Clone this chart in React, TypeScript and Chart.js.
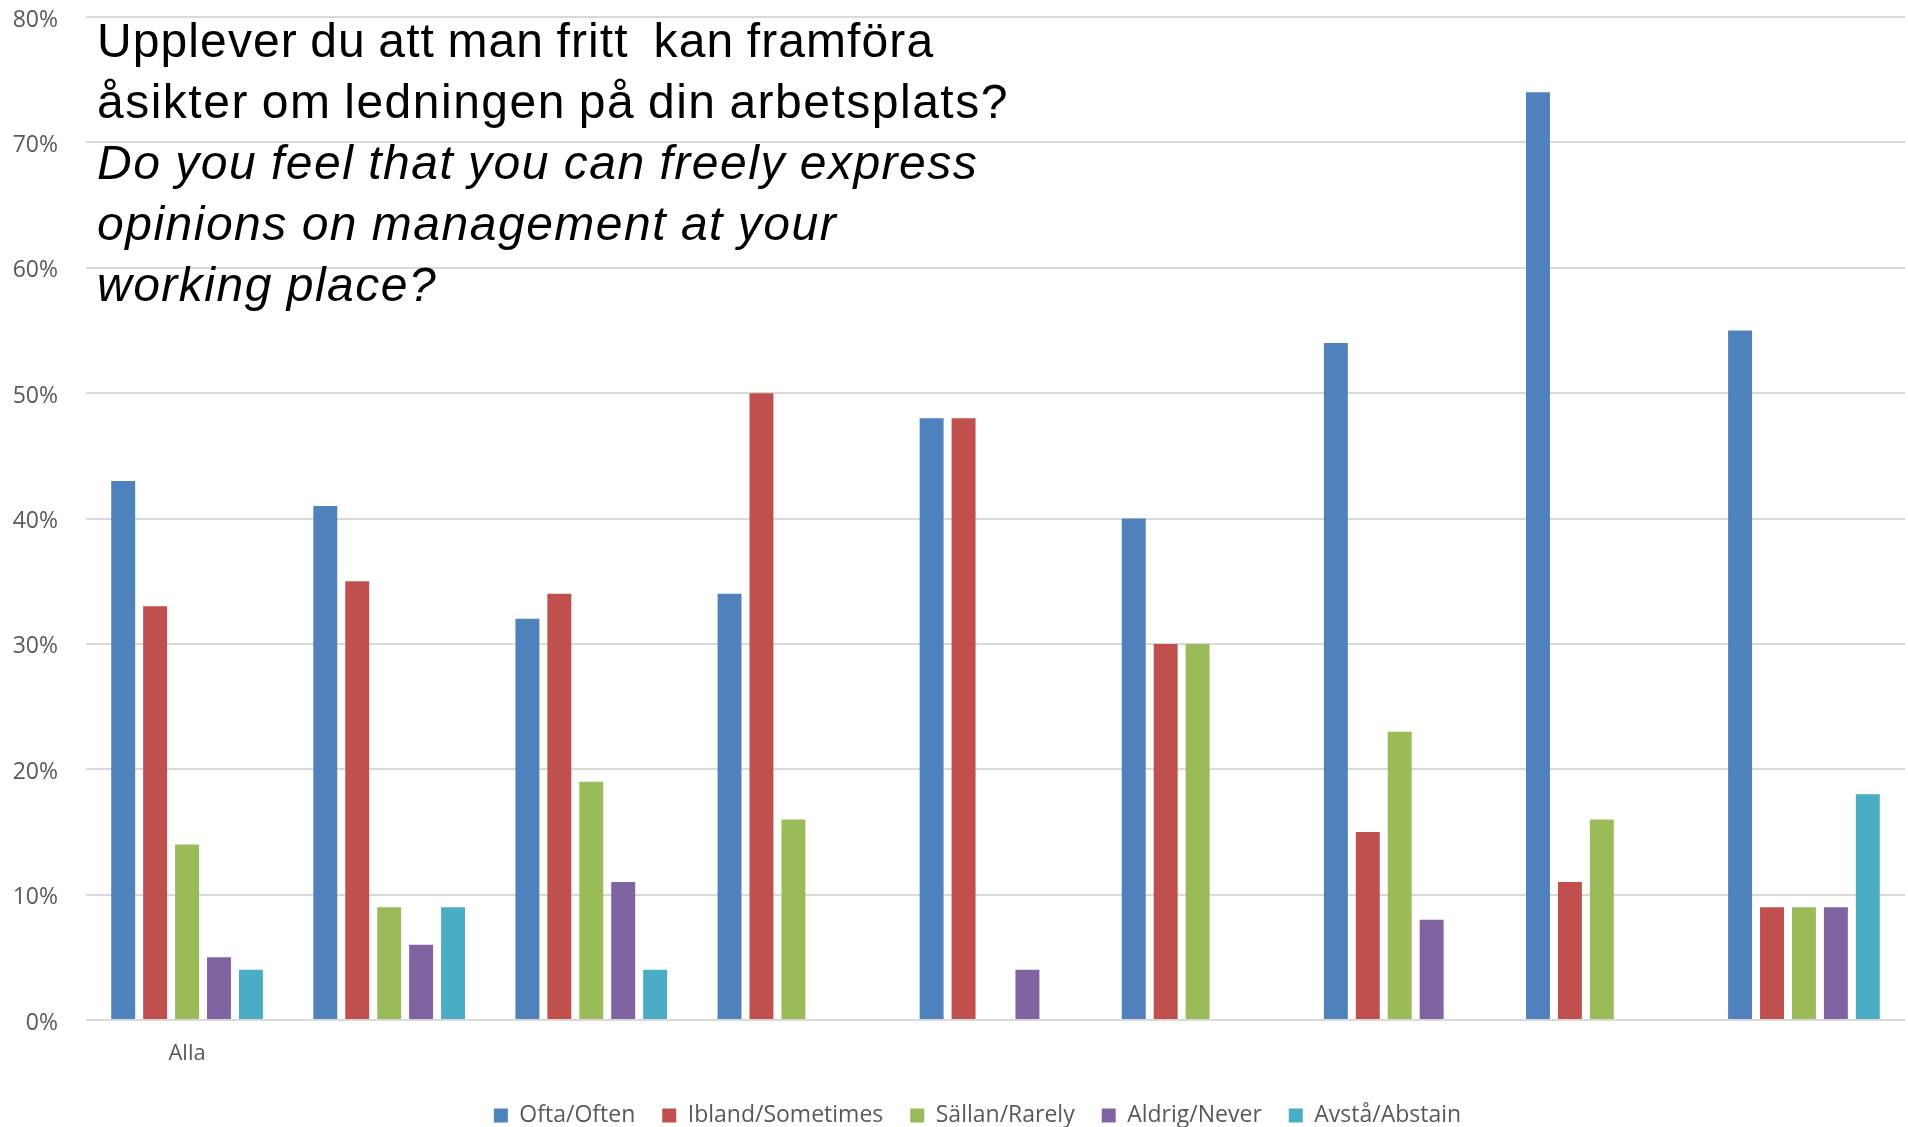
import React, { useEffect, useRef } from "react";
import { Chart, registerables } from "chart.js";

Chart.register(...registerables);

const categories = ["Alla", "", "", "", "", "", "", "", ""];
const seriesNames = ["Ofta/Often", "Ibland/Sometimes", "Sällan/Rarely", "Aldrig/Never", "Avstå/Abstain"];
const often = [43, 41, 32, 34, 48, 40, 54, 74, 55];
const sometimes = [33, 35, 34, 50, 48, 30, 15, 11, 9];
const rarely = [14, 9, 19, 16, null, 30, 23, 16, 9];
const never = [5, 6, 11, null, 4, null, 8, null, 9];
const abstain = [4, 9, 4, null, null, null, null, null, 18];
const seriesColors = ["#4F81BD", "#C0504D", "#9BBB59", "#8064A2", "#4BACC6"];
const yMin = 0;
const yMax = 80;
const yStep = 10;
const yTickLabels = ["0%", "10%", "20%", "30%", "40%", "50%", "60%", "70%", "80%"];
const titleLines = [
  "Upplever du att man fritt  kan framföra",
  "åsikter om ledningen på din arbetsplats?",
  "Do you feel that you can freely express",
  "opinions on management at your",
  "working place?",
];

const FONT = "'Open Sans', sans-serif";
const TICK_SIZE = 23;
const LEGEND_SIZE = 23;
const LABEL_GAP = 28;

const innerTitle = {
  id: "innerTitle",
  afterDatasetsDraw(chart: any) {
    const { ctx, chartArea } = chart;
    ctx.save();
    ctx.fillStyle = "#000000";
    ctx.textAlign = "left";
    ctx.textBaseline = "alphabetic";
    titleLines.forEach((line, i) => {
      const italic = i >= 2;
      ctx.font = `${italic ? "italic " : ""}48px "Liberation Sans", Arial, sans-serif`;
      try {
        (ctx as any).letterSpacing = italic ? "1.5px" : i === 0 ? "1.1px" : "1.5px";
        (ctx as any).wordSpacing = italic ? "-1px" : "-2px";
      } catch (e) {}
      ctx.fillText(line, chartArea.left + 11, chartArea.top + 40 + i * 61);
    });
    ctx.restore();
  },
};

export default function App() {
  const canvasRef = useRef<HTMLCanvasElement | null>(null);

  useEffect(() => {
    document.body.style.margin = "0";
    document.body.style.overflow = "hidden";
    const canvas = canvasRef.current;
    if (!canvas) return;

    const mctx = document.createElement("canvas").getContext("2d")!;
    mctx.font = `${TICK_SIZE}px ${FONT}`;
    const widest = Math.max(...yTickLabels.map((t) => mctx.measureText(t).width));

    const series = [often, sometimes, rarely, never, abstain];
    const tickFont = { family: FONT, size: TICK_SIZE };
    const chart = new Chart(canvas, {
      type: "bar",
      data: {
        labels: categories,
        datasets: series.map((d, i) => ({
          label: seriesNames[i],
          data: d,
          backgroundColor: seriesColors[i],
          borderWidth: 0,
          categoryPercentage: 0.79,
          barPercentage: 0.75,
        })),
      },
      options: {
        responsive: false,
        animation: false,
        layout: { padding: { left: 50, right: 3, top: 17, bottom: -10 } },
        plugins: {
          title: { display: false },
          tooltip: { enabled: false },
          legend: {
            display: true,
            position: "bottom",
            labels: {
              boxWidth: 14,
              boxHeight: 14,
              padding: 27,
              color: "#595959",
              font: { family: FONT, size: LEGEND_SIZE },
            },
          },
        },
        scales: {
          x: {
            grid: { display: false, drawTicks: false },
            border: { display: false },
            ticks: { color: "#595959", font: { family: FONT, size: 22 }, padding: 21, maxRotation: 0, autoSkip: false },
            afterFit: (s: any) => {
              s.height = 57;
            },
          },
          y: {
            min: yMin,
            max: yMax,
            grid: { color: "#d9d9d9", lineWidth: 2, drawTicks: false },
            border: { display: false },
            ticks: {
              stepSize: yStep,
              color: "#595959",
              font: tickFont,
              mirror: true,
              crossAlign: "far",
              labelOffset: 3,
              padding: -(LABEL_GAP + widest),
              callback: (v: any) => `${v}%`,
            },
            afterFit: (s: any) => {
              s.width = 36;
            },
          },
        },
      },
      plugins: [innerTitle],
    });
    return () => chart.destroy();
  }, []);

  return (
    <div style={{ width: 1908, height: 1127 }}>
      <canvas ref={canvasRef} width={1908} height={1127} style={{ display: "block" }} />
    </div>
  );
}
